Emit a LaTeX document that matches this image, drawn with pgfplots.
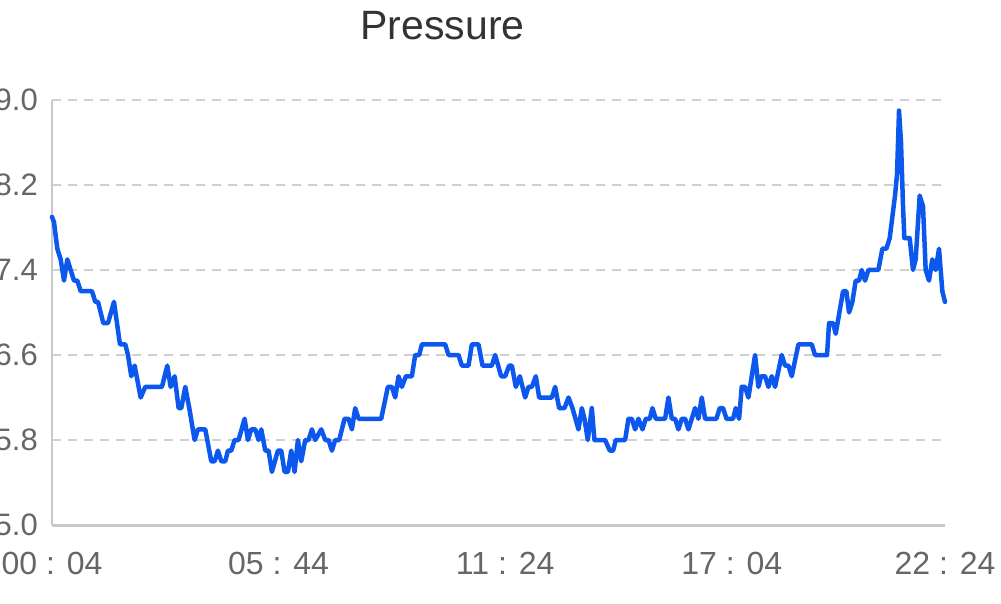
\documentclass[border=0pt]{standalone}
\usepackage{pgfplots}
\pgfplotsset{compat=1.18}
\usepackage{fontspec}
\setmainfont{Liberation Sans}
\definecolor{lineblue}{RGB}{12,88,238}
\definecolor{gridgray}{RGB}{208,208,208}
\definecolor{axisgray}{RGB}{200,200,200}
\definecolor{labelgray}{RGB}{102,102,102}
\definecolor{titlegray}{RGB}{51,51,51}
\begin{document}
\begin{tikzpicture}
\begin{axis}[
  at={(52pt,78pt)}, anchor=south west,
  scale only axis, width=893pt, height=425pt,
  xmin=4, xmax=1344, ymin=5, ymax=9,
  xtick={4,344,684,1024,1344},
  xticklabels={00 : 04,05 : 44,11 : 24,17 : 04,22 : 24},
  ytick={5,5.8,6.6,7.4,8.2,9},
  yticklabels={5.0,5.8,6.6,7.4,8.2,9.0},
  /pgf/number format/assume math mode=true,
  axis x line=bottom, axis y line=left,
  axis line style={-},
  x axis line style={draw=axisgray, line width=3pt},
  y axis line style={draw=axisgray, line width=2pt},
  major tick length=0pt,
  ymajorgrids,
  grid style={draw=gridgray, line width=2pt, dash pattern=on 9pt off 7pt},
  x tick label style={font=\fontsize{32}{38}\selectfont, text=labelgray, inner sep=0pt, anchor=north, yshift=-27pt},
  y tick label style={font=\fontsize{31}{37}\selectfont, text=labelgray, inner sep=0pt, anchor=east, xshift=-14pt},
  clip=false,
]
\addplot[color=lineblue, line width=4.5pt, line join=round, line cap=round, mark=none] table {
x y
4 7.9
7 7.85
12 7.6
17 7.5
22 7.3
27 7.5
32 7.4
37 7.3
42 7.3
47 7.2
64 7.2
69 7.1
73 7.1
81 6.9
88 6.9
97 7.1
106 6.7
114 6.7
118 6.6
123 6.4
128 6.5
137 6.2
144 6.3
169 6.3
177 6.5
182 6.3
188 6.4
194 6.1
198 6.1
204 6.3
210 6.1
218 5.8
223 5.9
234 5.9
243 5.6
248 5.6
253 5.7
258 5.6
264 5.6
268 5.7
273 5.7
278 5.8
284 5.8
293 6.0
298 5.8
303 5.9
309 5.9
314 5.8
318 5.9
324 5.7
329 5.7
334 5.5
343 5.7
348 5.7
353 5.5
358 5.5
363 5.7
368 5.5
373 5.8
378 5.6
384 5.8
389 5.8
394 5.9
399 5.8
408 5.9
414 5.8
419 5.8
424 5.7
429 5.8
435 5.8
443 6.0
449 6.0
454 5.9
459 6.1
464 6.0
498 6.0
508 6.3
514 6.3
519 6.2
524 6.4
529 6.3
535 6.4
544 6.4
549 6.6
555 6.6
559 6.7
594 6.7
599 6.6
614 6.6
619 6.5
629 6.5
634 6.7
644 6.7
650 6.5
664 6.5
669 6.6
678 6.4
684 6.4
690 6.5
694 6.5
700 6.3
706 6.4
714 6.2
719 6.3
724 6.3
730 6.4
735 6.2
754 6.2
759 6.3
765 6.1
773 6.1
779 6.2
785 6.1
794 5.9
799 6.1
803 6.0
808 5.8
814 6.1
818 5.8
834 5.8
841 5.7
846 5.7
850 5.8
864 5.8
869 6.0
874 6.0
879 5.9
884 6.0
890 5.9
895 6.0
901 6.0
905 6.1
910 6.0
924 6.0
929 6.2
934 6.0
939 6.0
944 5.9
949 6.0
954 6.0
959 5.9
969 6.1
974 6.0
979 6.2
984 6.0
1001 6.0
1006 6.1
1011 6.1
1016 6.0
1026 6.0
1030 6.1
1035 6.0
1039 6.3
1044 6.3
1049 6.2
1059 6.6
1064 6.3
1068 6.4
1074 6.4
1079 6.3
1084 6.4
1089 6.3
1099 6.6
1104 6.5
1109 6.5
1114 6.4
1124 6.7
1144 6.7
1149 6.6
1167 6.6
1170 6.9
1176 6.9
1180 6.8
1191 7.2
1196 7.2
1200 7.0
1205 7.1
1210 7.3
1215 7.3
1219 7.4
1224 7.3
1229 7.4
1244 7.4
1250 7.6
1256 7.6
1261 7.7
1265 7.9
1269 8.1
1272 8.3
1275 8.9
1278 8.6
1281 8.0
1283 7.7
1291 7.7
1296 7.4
1300 7.5
1306 8.1
1311 8.0
1315 7.4
1320 7.3
1325 7.5
1330 7.4
1335 7.6
1340 7.2
1344 7.1
};
\end{axis}
\node[anchor=base, font=\fontsize{41}{48}\selectfont, text=titlegray, inner sep=0pt] at (442.5pt,563pt) {Pressure};
\pgfresetboundingbox
\useasboundingbox (0,0) rectangle (1001pt,603pt);
\end{tikzpicture}
\end{document}
